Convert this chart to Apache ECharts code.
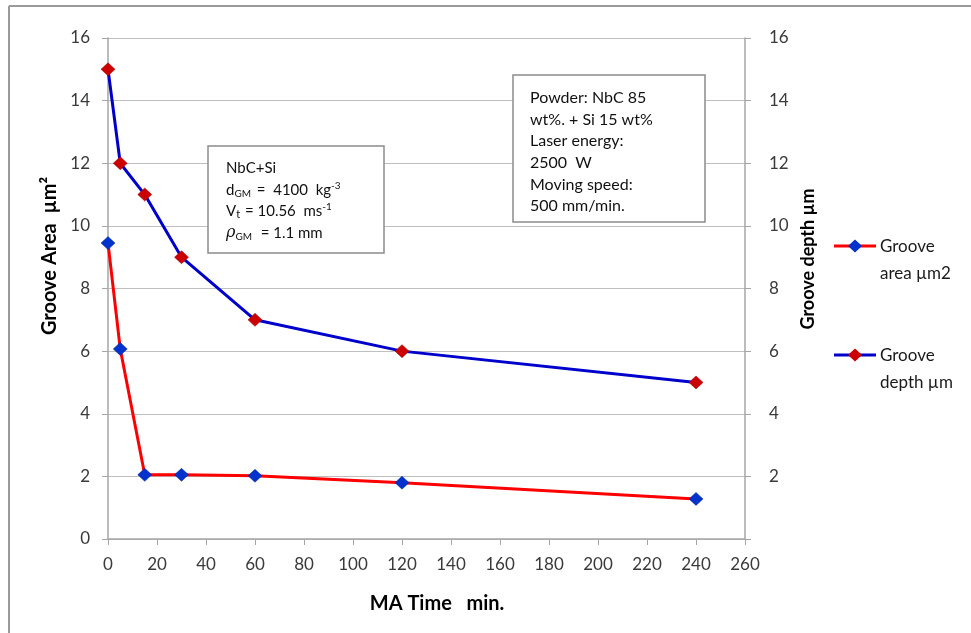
<!DOCTYPE html>
<html>
<head>
<meta charset="utf-8">
<script src="https://cdn.jsdelivr.net/npm/echarts@6/dist/echarts.min.js"></script>
<style>html,body{margin:0;padding:0;background:#fff}#c{width:971px;height:633px}</style>
</head>
<body>
<div id="c"></div>
<script>
// Data
const maTime = [0, 5, 15, 30, 60, 120, 240];
const grooveArea = [9.45, 6.07, 2.05, 2.05, 2.02, 1.8, 1.28];
const grooveDepth = [15, 12, 11, 9, 7, 6, 5];
const seriesNames = ['Groove area \u00b5m2', 'Groove depth \u00b5m'];
const xTicks = {min: 0, max: 260, interval: 20};
const yTicks = {min: 0, max: 16, interval: 2};

const FONT = 'Lato';
const lineColors = ['#ff0000', '#0000cc'];
const markerColors = ['#0033cc', '#cc0000'];
const chart = echarts.init(document.getElementById('c'), null, {renderer: 'canvas'});

const toPairs = (xs, ys) => xs.map((x, i) => [x, ys[i]]);

const axisLabelStyle = {color: '#3a3a3a', fontSize: 17, fontFamily: FONT};

// custom legend (icon aligned with first text line)
const legendGraphics = [];
const legendTops = [246, 355];
seriesNames.forEach((n, i) => {
  const y = legendTops[i];
  legendGraphics.push({type: 'line', shape: {x1: 834, y1: y, x2: 876, y2: y}, style: {stroke: lineColors[i], lineWidth: 3}});
  legendGraphics.push({type: 'polygon', shape: {points: [[855, y - 6.5], [862, y], [855, y + 6.5], [848, y]]}, style: {fill: markerColors[i]}});
  const sp = n.indexOf(' ');
  legendGraphics.push({type: 'text', x: 880, y: y - 13, style: {
    text: n.slice(0, sp) + '\n' + n.slice(sp + 1), font: '17px ' + FONT, fill: '#1a1a1a', lineHeight: 27, verticalAlign: 'top'}});
});

const rn = {fontSize: 15, fontFamily: FONT, fill: '#111', lineHeight: 18};
chart.setOption({
  backgroundColor: '#fff',
  animation: false,
  grid: {left: 108, right: 226, top: 38, bottom: 94, containLabel: false},
  xAxis: {
    type: 'value', min: xTicks.min, max: xTicks.max, interval: xTicks.interval,
    axisLine: {show: true, lineStyle: {color: '#a6a6a6', width: 1.5}},
    axisTick: {show: true, length: 6, lineStyle: {color: '#a6a6a6'}},
    axisLabel: Object.assign({margin: 17}, axisLabelStyle),
    splitLine: {show: false}
  },
  yAxis: [
    {
      type: 'value', min: yTicks.min, max: yTicks.max, interval: yTicks.interval,
      axisLine: {show: true, onZero: false, lineStyle: {color: '#a6a6a6', width: 1.5}},
      axisTick: {show: true, length: 6, lineStyle: {color: '#a6a6a6'}},
      axisLabel: Object.assign({margin: 18}, axisLabelStyle),
      splitLine: {show: true, lineStyle: {color: '#bfbfbf', width: 1.2}}
    },
    {
      type: 'value', position: 'right', min: yTicks.min, max: yTicks.max, interval: yTicks.interval,
      axisLine: {show: true, onZero: false, lineStyle: {color: '#a6a6a6', width: 1.5}},
      axisTick: {show: true, length: 6, lineStyle: {color: '#a6a6a6'}},
      axisLabel: Object.assign({margin: 24, formatter: v => v === 0 ? '' : String(v)}, axisLabelStyle),
      splitLine: {show: false}
    }
  ],
  series: [
    {
      name: seriesNames[0], type: 'line', yAxisIndex: 0,
      data: toPairs(maTime, grooveArea),
      lineStyle: {color: lineColors[0], width: 3},
      itemStyle: {color: markerColors[0], borderColor: '#0a2a9a', borderWidth: 0.5},
      symbol: 'diamond', symbolSize: [14, 13], showAllSymbol: true
    },
    {
      name: seriesNames[1], type: 'line', yAxisIndex: 1,
      data: toPairs(maTime, grooveDepth),
      lineStyle: {color: lineColors[1], width: 3},
      itemStyle: {color: markerColors[1], borderColor: '#a00000', borderWidth: 0.5},
      symbol: 'diamond', symbolSize: [14, 13], showAllSymbol: true
    }
  ],
  graphic: legendGraphics.concat([
    // outer frame
    {type: 'line', shape: {x1: 9, y1: 6, x2: 971, y2: 6}, style: {stroke: '#9a9a9a', lineWidth: 2}},
    {type: 'line', shape: {x1: 9, y1: 6, x2: 9, y2: 633}, style: {stroke: '#9a9a9a', lineWidth: 2}},
    // axis titles
    {type: 'text', x: 50, y: 256, rotation: Math.PI / 2,
      style: {text: 'Groove Area  \u00b5m\u00b2', font: 'bold 20px ' + FONT, fill: '#000', align: 'center', verticalAlign: 'middle'}},
    {type: 'text', x: 808, y: 259, rotation: Math.PI / 2,
      style: {text: 'Groove depth \u00b5m', font: 'bold 18px ' + FONT, fill: '#000', align: 'center', verticalAlign: 'middle'}},
    {type: 'text', x: 437, y: 604,
      style: {text: 'MA Time   min.', font: 'bold 20px ' + FONT, fill: '#000', align: 'center', verticalAlign: 'middle'}},
    // box 1
    {type: 'rect', shape: {x: 208, y: 146, width: 176, height: 107}, style: {fill: '#fff', stroke: '#8c8c8c', lineWidth: 1.5}, z: 10},
    {type: 'text', x: 226, y: 168, z: 11, style: {text: 'NbC+Si', font: '15px ' + FONT, fill: '#111', verticalAlign: 'middle'}},
    {type: 'text', x: 226, y: 190, z: 11, style: {
      text: '{n|d}{s|GM}{n| =  4100  kg}{p|-3}', verticalAlign: 'middle',
      rich: {n: rn,
             s: {fontSize: 10, fontFamily: FONT, fill: '#111', lineHeight: 18, verticalAlign: 'bottom', padding: [6, 2, 0, 0]},
             p: {fontSize: 10, fontFamily: FONT, fill: '#111', lineHeight: 18, verticalAlign: 'top', padding: [0, 0, 6, 0]}}}},
    {type: 'text', x: 226, y: 211, z: 11, style: {
      text: '{n|V}{s|t}{n| = 10.56  ms}{p|-1}', verticalAlign: 'middle',
      rich: {n: rn,
             s: {fontSize: 11, fontFamily: FONT, fill: '#111', lineHeight: 18, verticalAlign: 'bottom', padding: [6, 1, 0, 0]},
             p: {fontSize: 10, fontFamily: FONT, fill: '#111', lineHeight: 18, verticalAlign: 'top', padding: [0, 0, 6, 0]}}}},
    {type: 'text', x: 226, y: 233, z: 11, style: {
      text: '{g|\u03c1}{s|GM}{n|  = 1.1 mm}', verticalAlign: 'middle',
      rich: {n: rn,
             g: {fontSize: 16, fontFamily: 'DejaVu Serif', fontStyle: 'italic', fill: '#111', lineHeight: 18},
             s: {fontSize: 10, fontFamily: FONT, fill: '#111', lineHeight: 18, verticalAlign: 'bottom', padding: [6, 1, 0, 0]}}}},
    // box 2
    {type: 'rect', shape: {x: 513, y: 75, width: 192, height: 147}, style: {fill: '#fff', stroke: '#8c8c8c', lineWidth: 1.5}, z: 10},
    {type: 'text', x: 530, y: 152, z: 11, style: {
      text: 'Powder: NbC 85\nwt%. + Si 15 wt%\nLaser energy:\n2500  W\nMoving speed:\n500 mm/min.',
      font: '16px ' + FONT, fill: '#111', lineHeight: 21.6, verticalAlign: 'middle'}}
  ])
});
</script>
</body>
</html>
